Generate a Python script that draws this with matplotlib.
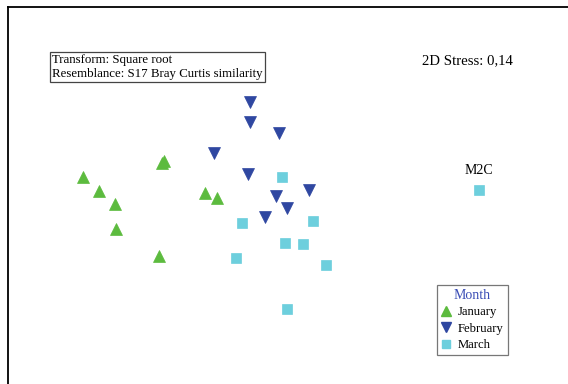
import matplotlib
matplotlib.use("Agg")
import matplotlib.pyplot as plt
from matplotlib.lines import Line2D

# nMDS ordination coordinates per month
jan_x = [-1.97, -1.81, -1.65, -1.64, -1.21, -1.18, -1.16, -0.75, -0.63]
jan_y = [0.23, 0.09, -0.04, -0.29, -0.56, 0.37, 0.39, 0.07, 0.02]

feb_x = [-0.30, -0.30, -0.01, -0.66, -0.32, 0.29, -0.04, 0.07, -0.15]
feb_y = [0.98, 0.78, 0.67, 0.47, 0.26, 0.10, 0.04, -0.08, -0.17]

mar_x = [0.02, -0.38, 0.33, 0.05, 0.23, -0.44, 0.46, 0.07, 1.99]
mar_y = [0.23, -0.23, -0.21, -0.43, -0.44, -0.58, -0.65, -1.09, 0.10]

months = ["January", "February", "March"]
colors = ["#5cbb3e", "#2f47a1", "#6dcfdd"]
markers = ["^", "v", "s"]
msizes = [8.3, 8.3, 7.3]

outlier_label = "M2C"
stress_text = "2D Stress: 0,14"
info_lines = ["Transform: Square root", "Resemblance: S17 Bray Curtis similarity"]

plt.rcParams["font.family"] = ["Liberation Serif", "DejaVu Serif"]

fig = plt.figure(figsize=(5.68, 3.84), dpi=100)
ax = fig.add_axes([8 / 568, 0.0, 1 - 8 / 568, 1 - 7 / 384])
ax.set_xlim(-2.72, 2.88)
ax.set_ylim(-1.84, 1.93)
ax.set_xticks([])
ax.set_yticks([])
for side in ("right", "bottom"):
    ax.spines[side].set_visible(False)
for side in ("left", "top"):
    ax.spines[side].set_linewidth(1.3)
    ax.spines[side].set_color("black")

series = [(jan_x, jan_y), (feb_x, feb_y), (mar_x, mar_y)]
for (xs, ys), c, m, ms in zip(series, colors, markers, msizes):
    ax.plot(xs, ys, linestyle="none", marker=m, markersize=ms,
            color=c, markeredgecolor=c, markeredgewidth=0.5)

ax.annotate(outlier_label, (mar_x[-1], mar_y[-1]), xytext=(0, 9),
            textcoords="offset points", ha="center", va="bottom", fontsize=10)

ax.text(1.87, 1.39, stress_text, ha="center", va="center", fontsize=10.6)

ax.text(-2.28, 1.33, "\n".join(info_lines), ha="left", va="center",
        fontsize=9.3, linespacing=1.2,
        bbox=dict(boxstyle="square,pad=0.15", facecolor="white",
                  edgecolor="#444444", linewidth=0.9))

handles = [Line2D([], [], linestyle="none", marker=m, markersize=ms * 0.85,
                  color=c, markeredgecolor=c)
           for c, m, ms in zip(colors, markers, msizes)]
leg = ax.legend(handles, months, title="Month", loc="upper left",
                bbox_to_anchor=(437 / 568, 1 - 285 / 384),
                bbox_transform=fig.transFigure,
                fontsize=9.1, title_fontsize=10, frameon=True, fancybox=False,
                handlelength=0.9, handletextpad=0.45, labelspacing=0.36,
                borderpad=0.3, borderaxespad=0.0)
leg.get_title().set_color("#3a4db5")
frame = leg.get_frame()
frame.set_edgecolor("#555555")
frame.set_linewidth(0.9)

fig.savefig("out.png", dpi=100, facecolor="white")
